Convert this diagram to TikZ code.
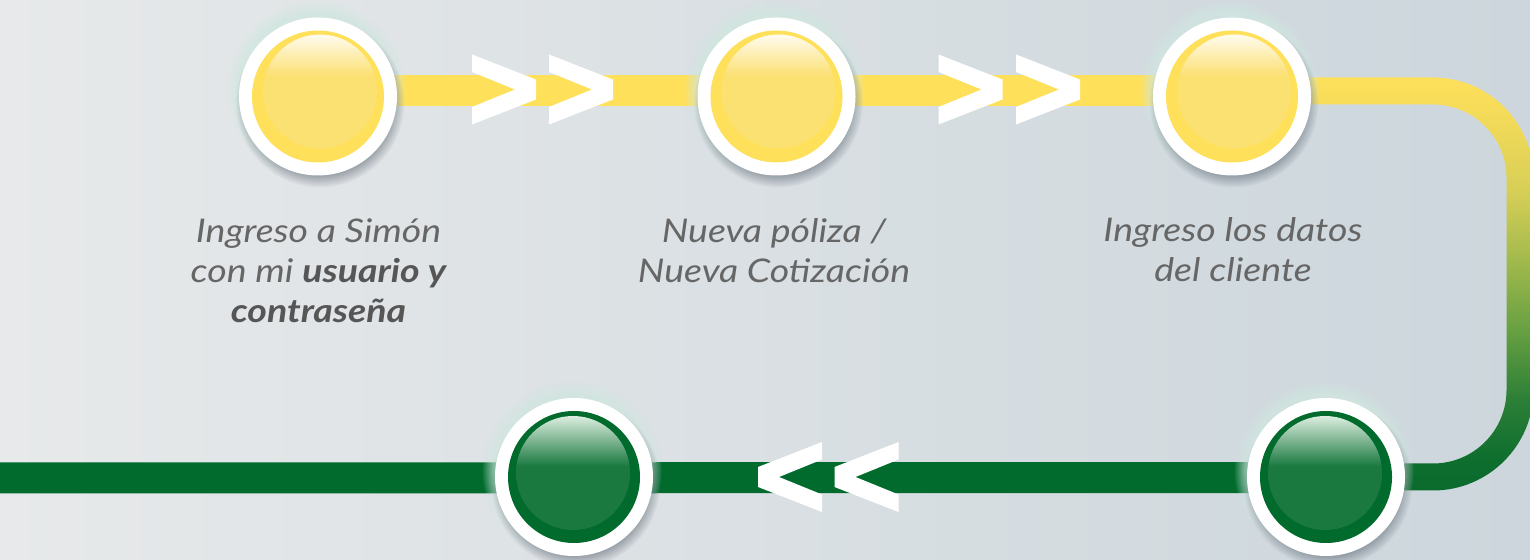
\documentclass[tikz,border=0pt]{standalone}
\usepackage{fontspec}
\setmainfont{Lato}[FakeStretch=1.15]
\usetikzlibrary{shadows,fadings}
\definecolor{bgl}{HTML}{E7E9EA}
\definecolor{bgr}{HTML}{CCD6DC}
\definecolor{yring}{HTML}{FFE05A}
\definecolor{yin}{HTML}{FBE072}
\definecolor{ytop}{HTML}{FFFBEF}
\definecolor{gring}{HTML}{006B2D}
\definecolor{gin}{HTML}{19793F}
\definecolor{gtop}{HTML}{DCEDDF}
\definecolor{mint}{HTML}{CFE6DF}
\definecolor{shd}{HTML}{4A5060}
\definecolor{txt}{HTML}{666666}
\definecolor{txtb}{HTML}{565656}
\definecolor{cA}{HTML}{0A6B2D}
\definecolor{cB}{HTML}{0E6E2E}
\definecolor{cC}{HTML}{2C7F37}
\definecolor{cD}{HTML}{67A042}
\definecolor{cE}{HTML}{AABD4E}
\definecolor{cF}{HTML}{D8CF56}
\definecolor{cG}{HTML}{F2DA59}
\definecolor{cH}{HTML}{FEE05A}
\pgfdeclareverticalshading{ygloss}{100bp}{color(0bp)=(yin); color(57bp)=(yin); color(75bp)=(ytop); color(100bp)=(ytop)}
\pgfdeclareverticalshading{ggloss}{100bp}{color(0bp)=(gin); color(53bp)=(gin); color(75bp)=(gtop); color(100bp)=(gtop)}
\pgfdeclareverticalshading{curveshade}{100bp}{color(0bp)=(cA); color(25bp)=(cA); color(28.7bp)=(cB); color(36bp)=(cC); color(44.4bp)=(cD); color(54.1bp)=(cE); color(61.4bp)=(cF); color(69.9bp)=(cG); color(75bp)=(cH); color(100bp)=(cH)}
\tikzset{
  ringnode/.style={circle, fill=white, minimum size=79pt, inner sep=0pt,
    circular glow={fill=mint, shadow scale=1.14, shadow xshift=-1pt, shadow yshift=3pt, opacity=0.75},
    circular drop shadow={fill=shd, shadow scale=1.07, shadow xshift=0.8pt, shadow yshift=-3pt, opacity=0.45}},
  ybar/.style={draw=yring, line width=15.5pt},
  gbar/.style={draw=gring, line width=15.5pt},
  lbl/.style={align=center, inner sep=0pt, text=txt, font=\itshape\fontsize{16.3}{20}\selectfont},
  chevr/.pic={\fill[white] (-32,35) -- (32,10) -- (32,-10) -- (-32,-35) -- (-32,-17.5) -- (11,0) -- (-32,17.5) -- cycle;}
}
\begin{document}
\begin{tikzpicture}[x=0.5pt, y=0.5pt]
\useasboundingbox (0,0) rectangle (1530,-560);
\shade[left color=bgl, right color=bgr] (0,0) rectangle (1530,-560);
% node positions
\coordinate (p1) at (318,-96.5);
\coordinate (p2) at (776.5,-96.5);
\coordinate (p3) at (1232,-96.5);
\coordinate (p4) at (1326,-477);
\coordinate (p5) at (574,-477);
\coordinate (gl) at (-10,-477.5);
% yellow bar
\draw[ybar] ([yshift=2.75pt]p1) -- ([yshift=2.75pt]p3);
% chevrons >>
\pic at (504,-89.5) {chevr};
\pic at (581,-89.5) {chevr};
\pic at (970.5,-89.5) {chevr};
\pic at (1048,-89.5) {chevr};
% curve (yellow to green)
\shade[shading=curveshade] (1300,-77.5) -- (1433,-77.5) arc[start angle=90, end angle=0, radius=100.5]
  -- (1533.5,-390) arc[start angle=0, end angle=-90, radius=100.5]
  -- (1300,-490.5) -- (1300,-463.5) -- (1433,-463.5) arc[start angle=-90, end angle=0, radius=73.5]
  -- (1506.5,-178) arc[start angle=0, end angle=90, radius=73.5] -- (1300,-104.5) -- cycle;
% green bar
\draw[gbar] ([yshift=-0.25pt]gl) -- ([yshift=-0.25pt]p4);
% chevrons <<
\pic[rotate=180] at (790,-477) {chevr};
\pic[rotate=180] at (866.5,-477) {chevr};
% circles
\node[ringnode] (c1) at (p1) {};
\node[ringnode] (c2) at (p2) {};
\node[ringnode] (c3) at (p3) {};
\node[ringnode] (c4) at (p4) {};
\node[ringnode] (c5) at (p5) {};
\foreach \c in {c1,c2,c3}{
  \fill[yring] (\c.center) circle[radius=66];
  \shade[shading=ygloss] ([shift={(1pt,2.5pt)}]\c.center) circle[radius=57];
}
\foreach \c in {c4,c5}{
  \fill[gring] (\c.center) circle[radius=66];
  \shade[shading=ggloss] ([shift={(-0.5pt,2pt)}]\c.center) circle[radius=57];
}
% labels (anchored at the baseline of the last line)
\node[lbl, anchor=base] (t1) at (318.5,-323) {Ingreso a Simón\\con mi \textcolor{txtb}{\textbf{usuario y}}\\\textcolor{txtb}{\textbf{contraseña}}};
\node[lbl, anchor=base] (t2) at (774,-283) {Nueva póliza /\\Nueva Cotización};
\node[lbl, anchor=base] (t3) at (1233,-282) {Ingreso los datos\\del cliente};
\end{tikzpicture}
\end{document}
